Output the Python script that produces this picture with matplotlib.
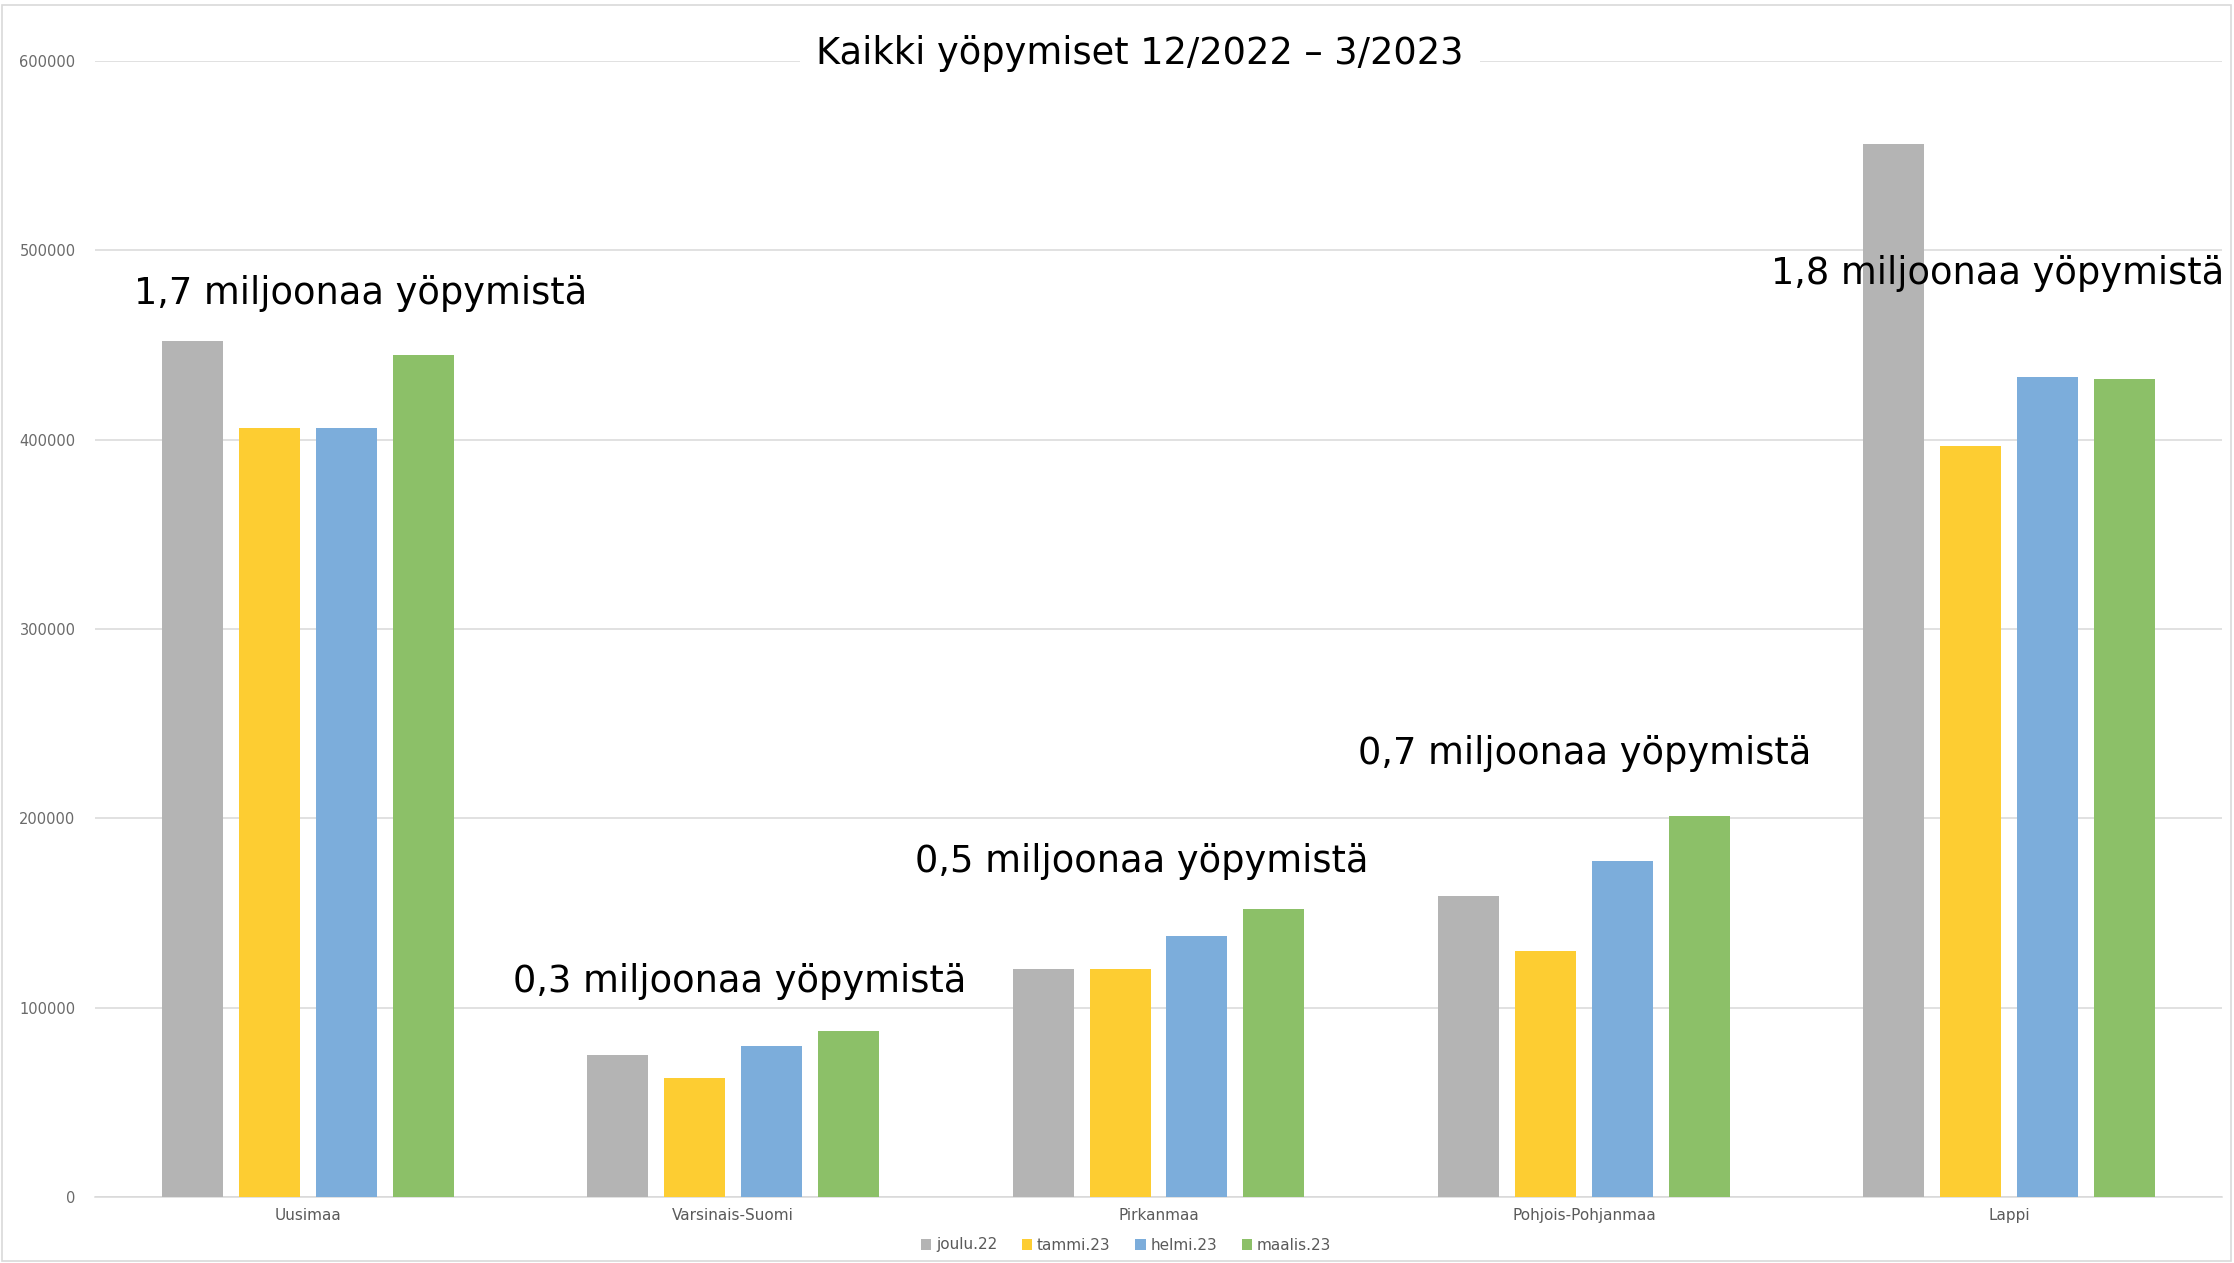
import matplotlib
matplotlib.use("Agg")
import matplotlib.pyplot as plt
from matplotlib.patches import Rectangle
import numpy as np

categories = ["Uusimaa", "Varsinais-Suomi", "Pirkanmaa", "Pohjois-Pohjanmaa", "Lappi"]
series_names = ["joulu.22", "tammi.23", "helmi.23", "maalis.23"]
joulu22 = [452000, 75000, 120500, 159000, 556000]
tammi23 = [406000, 63000, 120500, 129800, 396600]
helmi23 = [406000, 79800, 137700, 177300, 433200]
maalis23 = [444800, 87700, 152300, 201300, 431800]
annotations = ["1,7 miljoonaa yöpymistä", "0,3 miljoonaa yöpymistä",
               "0,5 miljoonaa yöpymistä", "0,7 miljoonaa yöpymistä",
               "1,8 miljoonaa yöpymistä"]
title = "Kaikki yöpymiset 12/2022 – 3/2023"
yticks = [0, 100000, 200000, 300000, 400000, 500000, 600000]

colors = ["#B4B4B4", "#FDCD32", "#7CADDB", "#8CC068"]

W, H = 2234, 1263
fig = plt.figure(figsize=(W / 100, H / 100), dpi=100)
plt.rcParams['font.family'] = ['DejaVu Sans']

ax = fig.add_axes([95 / W, 1 - 1197 / H, (2222 - 95) / W, (1197 - 61) / H])

x = np.arange(len(categories))
step = 0.181
width = 0.1434
for i, (vals, name, c) in enumerate(zip([joulu22, tammi23, helmi23, maalis23], series_names, colors)):
    ax.bar(x + (i - 1.5) * step, vals, width=width, color=c, label=name, zorder=3)

ax.set_xlim(-0.5, len(categories) - 0.5)
ax.set_ylim(0, 600000)
ax.set_yticks(yticks)
ax.set_yticklabels([str(v) for v in yticks])
ax.set_xticks(x)
ax.set_xticklabels(categories)
ax.tick_params(axis='y', length=0, pad=14, labelsize=10.5, labelcolor="#6A6A6A")
ax.tick_params(axis='x', length=0, pad=8, labelsize=11, labelcolor="#5A5A5A")
ax.grid(axis='y', color="#D9D9D9", linewidth=1.1, zorder=0)
for s in ['left', 'right', 'top']:
    ax.spines[s].set_visible(False)
ax.spines['bottom'].set_color("#D9D9D9")
ax.spines['bottom'].set_linewidth(1.1)

# annotations (figure-pixel positions of text boxes)
ann_pos = [(134, 293), (513, 982), (915, 862), (1358, 754), (1771, 274)]
for txt, (px, py) in zip(annotations, ann_pos):
    fig.text(px / W, 1 - py / H, txt, ha='left', va='center', fontsize=26.5,
             color='black', zorder=10)

fig.text(1140 / W, 1 - 54 / H, title, ha='center', va='center', fontsize=26.5,
         color='black', zorder=10,
         bbox=dict(facecolor='white', edgecolor='none', pad=12))

leg = fig.legend(loc='center', bbox_to_anchor=(1126 / W, 1 - 1245 / H), ncol=4,
                 frameon=False, fontsize=11, handlelength=0.7, handleheight=0.7,
                 handletextpad=0.3, columnspacing=1.6, labelcolor="#5A5A5A")

fig.patches.append(Rectangle((2 / W, 2 / H), (W - 5) / W, (H - 7) / H,
                             transform=fig.transFigure, fill=False,
                             edgecolor="#D9D9D9", linewidth=1.2))

fig.savefig("out.png", dpi=100)
